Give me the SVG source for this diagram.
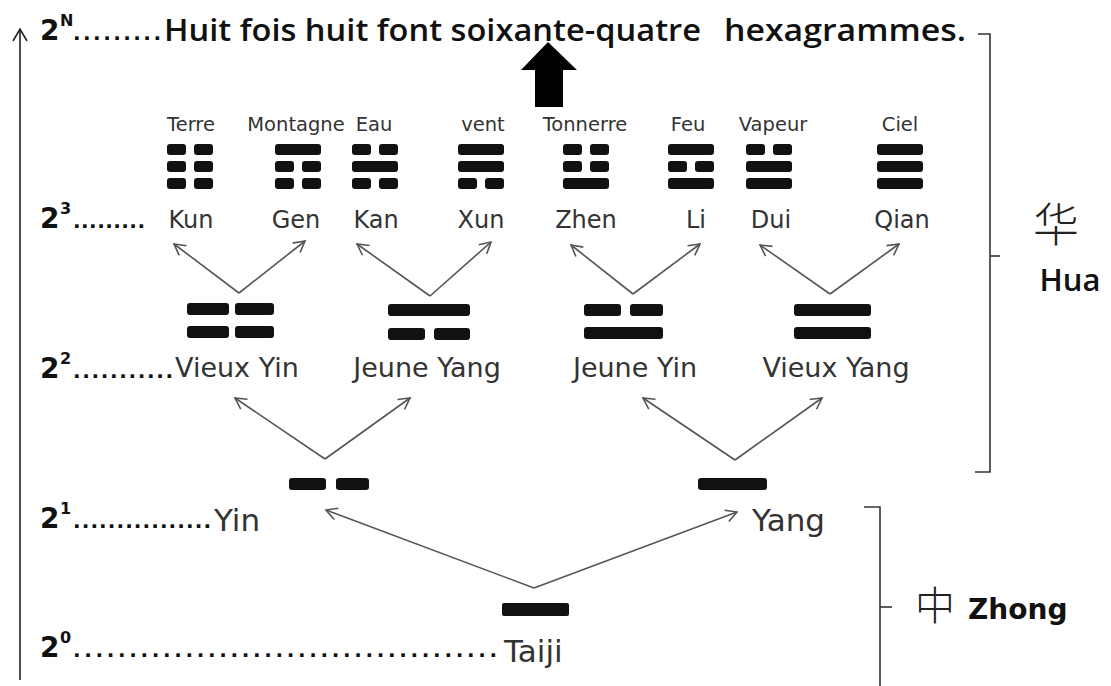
<svg xmlns="http://www.w3.org/2000/svg" width="1111" height="686" viewBox="0 0 1111 686">
<style>
.lvl{font-family:"DejaVu Sans",Verdana,sans-serif;font-weight:bold;font-size:28px;fill:#111}
.sup{font-family:"DejaVu Sans",Verdana,sans-serif;font-weight:bold;font-size:16px;fill:#111}
.dots{font-family:"DejaVu Sans",Verdana,sans-serif;font-weight:bold;font-size:20px;fill:#111}
.nm{font-family:"DejaVu Sans",Verdana,sans-serif;font-size:24px;fill:#333}
.nm2{font-family:"DejaVu Sans",Verdana,sans-serif;font-size:27px;fill:#333}
.nm1{font-family:"DejaVu Sans",Verdana,sans-serif;font-size:31px;fill:#333}
.sm{font-family:"DejaVu Sans",Verdana,sans-serif;font-size:19.5px;fill:#333;text-anchor:middle}
.title{font-family:"Open Sans","DejaVu Sans",sans-serif;font-weight:600;font-size:31px;fill:#111}
.bar{fill:#111}
.conn line{stroke:#555;stroke-width:1.6;fill:none}
.br{stroke:#333;stroke-width:1.6;fill:none}
.cjk{font-family:"Noto Sans CJK SC",sans-serif;font-weight:300;fill:#222}
</style>
<defs>
<marker id="ah" viewBox="-12 -7 14 14" markerWidth="14" markerHeight="14" refX="0" refY="0" orient="auto" markerUnits="userSpaceOnUse">
<path d="M-11,-6 L0,0 L-11,6" fill="none" stroke="#555" stroke-width="1.6"/>
</marker>
<rect id="yang" class="bar" width="46" height="11" rx="3"/>
<g id="yin"><rect class="bar" width="19" height="11" rx="3"/><rect class="bar" x="27" width="19" height="11" rx="3"/></g>
</defs>
<rect width="1111" height="686" fill="#fff"/>

<!-- left axis -->
<g id="axis">
<line x1="20" y1="29" x2="20" y2="680" stroke="#222" stroke-width="1.6"/>
<path d="M13,41 L20,29 L27,41" fill="none" stroke="#222" stroke-width="1.6"/>
</g>

<!-- title -->
<g id="title">
<text class="lvl" x="40" y="40">2</text><text class="sup" x="60" y="26">N</text>
<text class="dots" x="73" y="40" textLength="88" lengthAdjust="spacing">.........</text>
<text class="title" x="164" y="41" textLength="537" lengthAdjust="spacingAndGlyphs">Huit fois huit font soixante-quatre</text>
<text class="title" x="724" y="41" textLength="242" lengthAdjust="spacingAndGlyphs">hexagrammes.</text>
</g>

<g id="big-arrow">
<path d="M548,42 L577,70 L563,70 L563,107 L535,107 L535,70 L521,70 Z" fill="#000"/>
</g>

<!-- level labels -->
<g id="level3-label"><text class="lvl" x="40" y="228">2</text><text class="sup" x="60" y="214">3</text><text class="dots" x="73" y="228" textLength="72" lengthAdjust="spacing">.........</text></g>
<g id="level2-label"><text class="lvl" x="40" y="378">2</text><text class="sup" x="60" y="364">2</text><text class="dots" x="73" y="378" textLength="100" lengthAdjust="spacing">...........</text></g>
<g id="level1-label"><text class="lvl" x="40" y="528">2</text><text class="sup" x="60" y="514">1</text><text class="dots" x="73" y="528" textLength="138" lengthAdjust="spacing">................</text></g>
<g id="level0-label"><text class="lvl" x="40" y="657">2</text><text class="sup" x="60" y="643">0</text><text class="dots" x="73" y="657" textLength="424" lengthAdjust="spacing">......................................</text></g>

<!-- trigrams -->
<g id="kun"><text class="sm" x="191" y="131">Terre</text><use href="#yin" x="167" y="144"/><use href="#yin" x="167" y="161"/><use href="#yin" x="167" y="178"/><text class="nm" x="191" y="228" text-anchor="middle">Kun</text></g>
<g id="gen"><text class="sm" x="296" y="131">Montagne</text><use href="#yang" x="275" y="144"/><use href="#yin" x="275" y="161"/><use href="#yin" x="275" y="178"/><text class="nm" x="296" y="228" text-anchor="middle">Gen</text></g>
<g id="kan"><text class="sm" x="374" y="131">Eau</text><use href="#yin" x="352" y="144"/><use href="#yang" x="352" y="161"/><use href="#yin" x="352" y="178"/><text class="nm" x="376" y="228" text-anchor="middle">Kan</text></g>
<g id="xun"><text class="sm" x="483" y="131">vent</text><use href="#yang" x="458" y="144"/><use href="#yang" x="458" y="161"/><use href="#yin" x="458" y="178"/><text class="nm" x="481" y="228" text-anchor="middle">Xun</text></g>
<g id="zhen"><text class="sm" x="585" y="131">Tonnerre</text><use href="#yin" x="563" y="144"/><use href="#yin" x="563" y="161"/><use href="#yang" x="563" y="178"/><text class="nm" x="586" y="228" text-anchor="middle">Zhen</text></g>
<g id="li"><text class="sm" x="688" y="131">Feu</text><use href="#yang" x="668" y="144"/><use href="#yin" x="668" y="161"/><use href="#yang" x="668" y="178"/><text class="nm" x="696" y="228" text-anchor="middle">Li</text></g>
<g id="dui"><text class="sm" x="773" y="131">Vapeur</text><use href="#yin" x="746" y="144"/><use href="#yang" x="746" y="161"/><use href="#yang" x="746" y="178"/><text class="nm" x="771" y="228" text-anchor="middle">Dui</text></g>
<g id="qian"><text class="sm" x="900" y="131">Ciel</text><use href="#yang" x="877" y="144"/><use href="#yang" x="877" y="161"/><use href="#yang" x="877" y="178"/><text class="nm" x="902" y="228" text-anchor="middle">Qian</text></g>

<!-- digrams -->
<g id="vieux-yin"><rect class="bar" x="187" y="303" width="42" height="12" rx="3"/><rect class="bar" x="235" y="303" width="39" height="12" rx="3"/><rect class="bar" x="187" y="326" width="42" height="12" rx="3"/><rect class="bar" x="235" y="326" width="39" height="12" rx="3"/><text class="nm2" x="175" y="377">Vieux Yin</text></g>
<g id="jeune-yang"><rect class="bar" x="388" y="304" width="82" height="12" rx="3"/><rect class="bar" x="388" y="328" width="37" height="12" rx="3"/><rect class="bar" x="434" y="328" width="36" height="12" rx="3"/><text class="nm2" x="427" y="377" text-anchor="middle">Jeune Yang</text></g>
<g id="jeune-yin"><rect class="bar" x="584" y="304" width="37" height="12" rx="3"/><rect class="bar" x="630" y="304" width="33" height="12" rx="3"/><rect class="bar" x="584" y="327" width="79" height="12" rx="3"/><text class="nm2" x="635" y="377" text-anchor="middle">Jeune Yin</text></g>
<g id="vieux-yang"><rect class="bar" x="794" y="304" width="77" height="12" rx="3"/><rect class="bar" x="794" y="327" width="77" height="12" rx="3"/><text class="nm2" x="836" y="377" text-anchor="middle">Vieux Yang</text></g>

<!-- level 1 -->
<g id="yin-node"><rect class="bar" x="289" y="478" width="37" height="12" rx="3"/><rect class="bar" x="336" y="478" width="33" height="12" rx="3"/><text class="nm1" x="214" y="531">Yin</text></g>
<g id="yang-node"><rect class="bar" x="698" y="478" width="69" height="12" rx="3"/><text class="nm1" x="752" y="531">Yang</text></g>

<!-- level 0 -->
<g id="taiji"><rect class="bar" x="502" y="603" width="67" height="13" rx="2"/><text class="nm1" x="504" y="662" font-size="32">Taiji</text></g>

<!-- connectors -->
<g id="connectors" class="conn">
<line x1="239" y1="293" x2="174" y2="244" marker-end="url(#ah)"/>
<line x1="239" y1="293" x2="305" y2="241" marker-end="url(#ah)"/>
<line x1="430" y1="296" x2="357" y2="244" marker-end="url(#ah)"/>
<line x1="430" y1="296" x2="491" y2="242" marker-end="url(#ah)"/>
<line x1="633" y1="294" x2="571" y2="245" marker-end="url(#ah)"/>
<line x1="633" y1="294" x2="700" y2="244" marker-end="url(#ah)"/>
<line x1="830" y1="294" x2="760" y2="245" marker-end="url(#ah)"/>
<line x1="830" y1="294" x2="899" y2="244" marker-end="url(#ah)"/>
<line x1="325" y1="459" x2="235" y2="398" marker-end="url(#ah)"/>
<line x1="325" y1="459" x2="410" y2="398" marker-end="url(#ah)"/>
<line x1="735" y1="460" x2="643" y2="398" marker-end="url(#ah)"/>
<line x1="735" y1="460" x2="822" y2="398" marker-end="url(#ah)"/>
<line x1="534" y1="588" x2="326" y2="510" marker-end="url(#ah)"/>
<line x1="534" y1="588" x2="737" y2="512" marker-end="url(#ah)"/>
</g>

<!-- brackets -->
<g id="hua">
<path class="br" d="M978,34 H990 V472 H975"/>
<path class="br" d="M990,256 H1000"/>
<text class="cjk" x="1056" y="241" font-size="46" text-anchor="middle">华</text>
<text class="title" x="1070" y="291" font-size="36" text-anchor="middle">Hua</text>
</g>
<g id="zhong">
<path class="br" d="M864,507 H880 V686"/>
<path class="br" d="M880,607 H892"/>
<text class="cjk" x="935" y="620" font-size="40" text-anchor="middle">中</text>
<text x="968" y="619" font-family="DejaVu Sans,Verdana,sans-serif" font-weight="bold" font-size="28" fill="#111">Zhong</text>
</g>
</svg>
